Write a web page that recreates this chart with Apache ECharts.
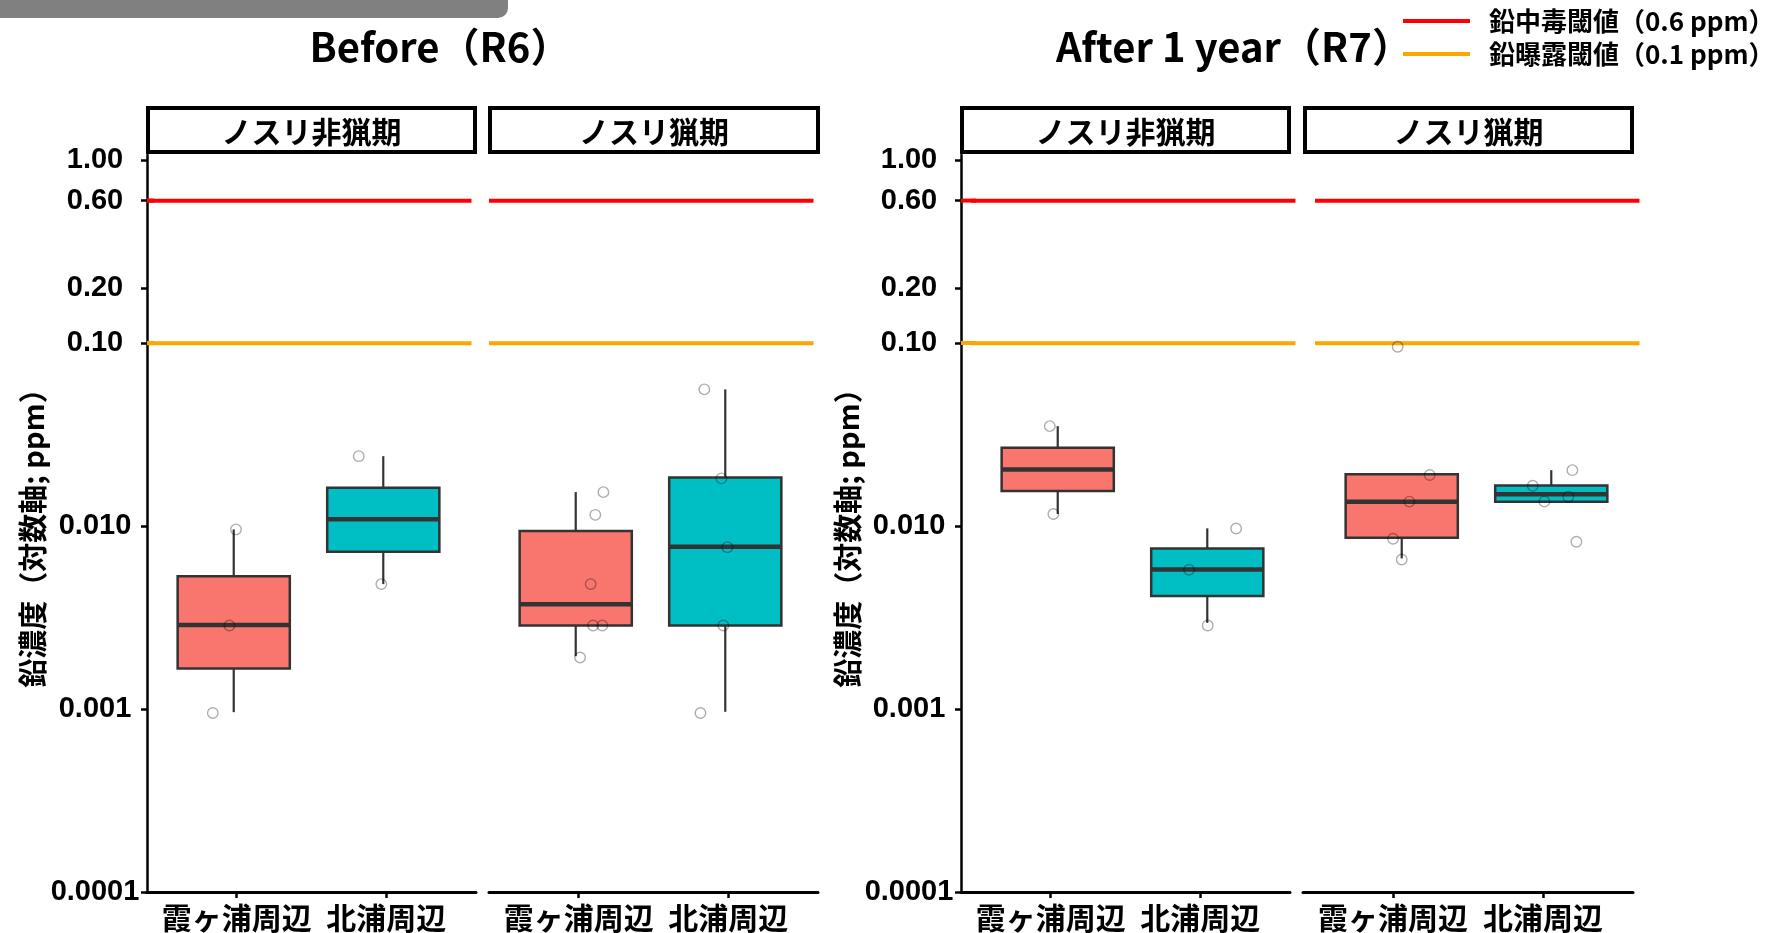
<!DOCTYPE html>
<html>
<head>
<meta charset="utf-8">
<script src="https://cdn.jsdelivr.net/npm/echarts@6/dist/echarts.min.js"></script>
<style>
html,body{margin:0;padding:0;background:#fff;}
#c{width:1767px;height:933px;}
</style>
</head>
<body>
<div id="c"></div>
<script>
// ---------- data ----------
const categories = ['霞ヶ浦周辺', '北浦周辺'];
const facetLabels = ['ノスリ非猟期', 'ノスリ猟期'];
const chartTitles = ['Before（R6）', 'After 1 year（R7）'];
const yAxisTitle = '鉛濃度（対数軸; ppm）';
const tickValues = [0.0001, 0.001, 0.01, 0.1, 0.2, 0.6, 1];
const tickLabels = ['0.0001', '0.001', '0.010', '0.10', '0.20', '0.60', '1.00'];
const thresholdNames = ['鉛中毒閾値（0.6 ppm）', '鉛曝露閾値（0.1 ppm）'];
const thresholdValues = [0.6, 0.1];

// box stats: [x, lowerWhisker, Q1, median, Q3, upperWhisker]
const boxBeforeNonHunt = [[1, 0.00097, 0.00168, 0.00290, 0.00536, 0.00964],
                          [2, 0.00485, 0.00728, 0.01094, 0.01626, 0.0242]];
const boxBeforeHunt    = [[1, 0.00196, 0.00288, 0.00376, 0.00944, 0.01541],
                          [2, 0.000975, 0.00288, 0.00775, 0.01853, 0.0560]];
const boxAfterNonHunt  = [[1, 0.0117, 0.0156, 0.0205, 0.0269, 0.0353],
                          [2, 0.00298, 0.00417, 0.00583, 0.00759, 0.00977]];
const boxAfterHunt     = [[1, 0.0067, 0.00867, 0.01364, 0.0193, 0.0193],
                          [2, 0.01364, 0.01364, 0.0150, 0.01676, 0.0203]];

// jittered individual points: [x, value]
const ptsBeforeNonHunt = [[1.015, 0.00964], [0.971, 0.00288], [0.86, 0.00096],
                          [1.836, 0.0242], [1.987, 0.00485]];
const ptsBeforeHunt    = [[1.185, 0.0154], [1.131, 0.01158], [1.100, 0.00485], [1.116, 0.00288], [1.178, 0.00288], [1.029, 0.00193],
                          [1.860, 0.056], [1.974, 0.0183], [2.014, 0.00771], [1.987, 0.00288], [1.834, 0.00096]];
const ptsAfterNonHunt  = [[0.947, 0.0353], [0.971, 0.0117],
                          [2.193, 0.00976], [1.878, 0.00581], [2.003, 0.00288]];
const ptsAfterHunt     = [[0.973, 0.0957], [1.187, 0.0191], [1.051, 0.01367], [0.942, 0.00857], [1.0, 0.00661],
                          [2.141, 0.0203], [1.876, 0.01668], [2.114, 0.01453], [1.954, 0.01367], [2.168, 0.00826]];

const boxSets = [boxBeforeNonHunt, boxBeforeHunt, boxAfterNonHunt, boxAfterHunt];
const ptSets = [ptsBeforeNonHunt, ptsBeforeHunt, ptsAfterNonHunt, ptsAfterHunt];

// ---------- style / layout ----------
const FILLS = ['#F8766D', '#00BFC4'];
const LINE_COLORS = ['#FF0000', '#FFA500'];
const BOX_HALF = 0.375;
const TOP = 155, HEIGHT = 738;
const axisGridLefts = [147, 489, 961, 1303];
const axisGridWidths = [329, 329, 329, 330];
const dataGridLefts = [144, 486, 968, 1312];
const CJK = '"Noto Sans CJK JP"';
const TICKFONT = '"Liberation Sans", "Noto Sans CJK JP"';

function tickFmt(v) {
  let best = 0, bd = Infinity;
  tickValues.forEach((t, i) => { const d = Math.abs(Math.log10(v) - Math.log10(t)); if (d < bd) { bd = d; best = i; } });
  return tickLabels[best];
}

const grids = [], xAxes = [], yAxes = [], series = [];
for (let i = 0; i < 4; i++) {
  grids.push({ left: axisGridLefts[i], top: TOP, width: axisGridWidths[i], height: HEIGHT });
  xAxes.push({
    type: 'value', gridIndex: i, min: 0.4, max: 2.6,
    axisLine: { show: true, onZero: false, lineStyle: { color: '#000', width: 3 } },
    axisTick: { show: true, length: 6, lineStyle: { color: '#000', width: 2.5 }, customValues: [1, 2] },
    axisLabel: { show: true, customValues: [1, 2], margin: 11, formatter: v => categories[Math.round(v) - 1],
                 fontSize: 30, fontWeight: 'bold', fontFamily: CJK, color: '#000' },
    splitLine: { show: false }
  });
  const showY = (i === 0 || i === 2);
  yAxes.push({
    type: 'log', logBase: 10, gridIndex: i, min: 0.0001, max: 1.065,
    axisLine: { show: showY, lineStyle: { color: '#000', width: 2.5 } },
    axisTick: { show: showY, length: 6, lineStyle: { color: '#000', width: 2.5 }, customValues: tickValues },
    axisLabel: { show: showY, customValues: tickValues, formatter: tickFmt, align: 'center', margin: 52,
                 fontSize: 29, fontWeight: 'bold', fontFamily: TICKFONT, color: '#000' },
    splitLine: { show: false }
  });
}
for (let i = 0; i < 4; i++) {
  const g = 4 + i;
  grids.push({ left: dataGridLefts[i], top: TOP, width: 329, height: HEIGHT });
  xAxes.push({ type: 'value', gridIndex: g, min: 0.4, max: 2.6, show: false });
  yAxes.push({ type: 'log', logBase: 10, gridIndex: g, min: 0.0001, max: 1.065, show: false });

  thresholdValues.forEach((tv, j) => {
    series.push({
      type: 'line', name: thresholdNames[j], xAxisIndex: g, yAxisIndex: g,
      data: [[0.42, tv], [2.59, tv]], symbol: 'none', silent: true, z: 1,
      lineStyle: { color: LINE_COLORS[j], width: 4 }, itemStyle: { color: LINE_COLORS[j] }
    });
  });

  series.push({
    type: 'custom', xAxisIndex: g, yAxisIndex: g, z: 2, silent: true,
    data: boxSets[i],
    encode: { x: 0, y: [1, 2, 3, 4, 5] },
    renderItem: function (params, api) {
      const x = api.value(0);
      const pLo = api.coord([x, api.value(1)]);
      const pQ1 = api.coord([x, api.value(2)]);
      const pMed = api.coord([x, api.value(3)]);
      const pQ3 = api.coord([x, api.value(4)]);
      const pHi = api.coord([x, api.value(5)]);
      const l = api.coord([x - BOX_HALF, api.value(3)])[0];
      const r = api.coord([x + BOX_HALF, api.value(3)])[0];
      const fill = FILLS[Math.round(x) - 1];
      const st = { stroke: '#333333', lineWidth: 2.2 };
      return {
        type: 'group', children: [
          { type: 'line', shape: { x1: pQ3[0], y1: pQ3[1], x2: pHi[0], y2: pHi[1] }, style: st },
          { type: 'line', shape: { x1: pLo[0], y1: pLo[1], x2: pQ1[0], y2: pQ1[1] }, style: st },
          { type: 'rect', shape: { x: l, y: pQ3[1], width: r - l, height: pQ1[1] - pQ3[1] },
            style: { fill: fill, stroke: '#333333', lineWidth: 2.5 } },
          { type: 'line', shape: { x1: l, y1: pMed[1], x2: r, y2: pMed[1] }, style: { stroke: '#333333', lineWidth: 4.5 } }
        ]
      };
    }
  });

  series.push({
    type: 'scatter', xAxisIndex: g, yAxisIndex: g, z: 3, silent: true,
    data: ptSets[i], symbol: 'circle', symbolSize: 10.5,
    itemStyle: { color: 'rgba(0,0,0,0)', borderColor: 'rgba(0,0,0,0.4)', borderWidth: 1.4 }
  });
}
// short threshold stubs at the y axes
[0, 2].forEach(a => {
  thresholdValues.forEach((tv, j) => {
    series.push({
      type: 'line', name: thresholdNames[j], xAxisIndex: a, yAxisIndex: a,
      data: [[0.4, tv], [a === 0 ? 0.45 : 0.5, tv]],
      symbol: 'none', silent: true, z: 1,
      lineStyle: { color: LINE_COLORS[j], width: 4 }, itemStyle: { color: LINE_COLORS[j] }
    });
  });
});

const graphics = [
  { type: 'rect', shape: { x: 0, y: 0, width: 508, height: 18, r: [0, 0, 10, 0] }, style: { fill: '#808080' } },
  { type: 'text', x: 440, y: 47, style: { text: chartTitles[0], font: 'bold 40px ' + CJK, fill: '#000', align: 'center', verticalAlign: 'middle' } },
  { type: 'text', x: 1234, y: 47, style: { text: chartTitles[1], font: 'bold 40px ' + CJK, fill: '#000', align: 'center', verticalAlign: 'middle' } },
  { type: 'text', x: 33, y: 531, rotation: Math.PI / 2, style: { text: yAxisTitle, font: 'bold 29px ' + CJK, fill: '#000', align: 'center', verticalAlign: 'middle' } },
  { type: 'text', x: 848, y: 531, rotation: Math.PI / 2, style: { text: yAxisTitle, font: 'bold 29px ' + CJK, fill: '#000', align: 'center', verticalAlign: 'middle' } }
];
const strips = [[146, 477], [488, 820], [960, 1291], [1303, 1634]];
strips.forEach((s, i) => {
  graphics.push({ type: 'rect', shape: { x: s[0] + 2, y: 108, width: s[1] - s[0] - 4, height: 44 },
                  style: { fill: '#fff', stroke: '#000', lineWidth: 4 } });
  graphics.push({ type: 'text', x: (s[0] + s[1]) / 2, y: 132,
                  style: { text: facetLabels[i % 2], font: 'bold 30px ' + CJK, fill: '#000', align: 'center', verticalAlign: 'middle' } });
});

const chart = echarts.init(document.getElementById('c'), null, { renderer: 'canvas' });
chart.setOption({
  animation: false,
  backgroundColor: '#ffffff',
  grid: grids,
  xAxis: xAxes,
  yAxis: yAxes,
  legend: {
    data: thresholdNames, orient: 'vertical', left: 1398, top: 1,
    icon: 'rect', itemWidth: 67, itemHeight: 4, itemGap: 3, selectedMode: false,
    textStyle: { fontSize: 26, fontWeight: 'bold', fontFamily: CJK, color: '#000', lineHeight: 30, padding: [0, 0, 0, 14] }
  },
  graphic: graphics,
  series: series
});
</script>
</body>
</html>
